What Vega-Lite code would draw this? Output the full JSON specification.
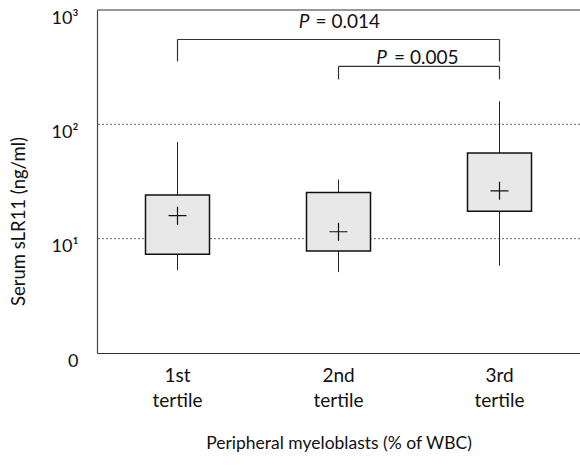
{
  "$schema": "https://vega.github.io/schema/vega-lite/v6.json",
  "width": 483,
  "height": 343,
  "autosize": {"type": "none"},
  "padding": {"left": 97, "top": 10, "right": 0, "bottom": 117},
  "background": "white",
  "config": {
    "view": {"stroke": null},
    "font": "Lato",
    "text": {"font": "Lato", "fontSize": 19}
  },
  "datasets": {
    "boxes": [
      {"g": "1st tertile", "lo": 5.3, "q1": 7.3, "med": 15.9, "q3": 24.1, "hi": 70},
      {"g": "2nd tertile", "lo": 5.1, "q1": 7.8, "med": 11.5, "q3": 25.3, "hi": 32.9},
      {"g": "3rd tertile", "lo": 5.8, "q1": 17.4, "med": 26.2, "q3": 56.1, "hi": 159}
    ],
    "brackets": [
      {"from": "1st tertile", "to": "3rd tertile", "top": 552, "leg": 355},
      {"from": "2nd tertile", "to": "3rd tertile", "top": 321, "leg": 247}
    ],
    "grid": [{"v": 10}, {"v": 100}],
    "border": [{"v": 1000}]
  },
  "encoding": {
    "x": {
      "field": "g",
      "type": "nominal",
      "scale": {"domain": ["1st tertile", "2nd tertile", "3rd tertile"], "paddingInner": 0, "paddingOuter": 0}
    }
  },
  "layer": [
    {
      "data": {"name": "grid"},
      "mark": {"type": "rule", "color": "#666", "strokeDash": [2, 2], "strokeWidth": 1},
      "encoding": {"x": null, "y": {"field": "v", "type": "quantitative"}}
    },
    {
      "data": {"name": "border"},
      "mark": {"type": "rule", "color": "#333", "strokeWidth": 1.2},
      "encoding": {"x": null, "y": {"field": "v", "type": "quantitative"}}
    },
    {
      "data": {"name": "boxes"},
      "mark": {"type": "rule", "color": "#222", "strokeWidth": 1},
      "encoding": {
        "x": {
          "field": "g",
          "type": "nominal",
          "axis": {
            "title": "Peripheral myeloblasts (% of WBC)",
            "titleFont": "Lato",
            "titleFontSize": 17.5,
            "titleFontWeight": "normal",
            "titleColor": "#111",
            "titlePadding": 24,
            "labelAngle": 0,
            "labelFont": "Lato",
            "labelFontSize": 19,
            "labelColor": "#111",
            "labelExpr": "split(datum.label, ' ')",
            "labelLineHeight": 25,
            "labelPadding": 13,
            "ticks": false,
            "domainColor": "#333",
            "domainWidth": 1.2
          }
        },
        "y": {
          "field": "lo",
          "type": "quantitative",
          "scale": {"type": "log", "domain": [1, 1000], "nice": false},
          "axis": {
            "title": "Serum sLR11 (ng/ml)",
            "titleFont": "Lato",
            "titleFontSize": 18.5,
            "titleFontWeight": "normal",
            "titleColor": "#111",
            "titleX": -79,
            "titleY": 211,
            "titleAlign": "center",
            "titleBaseline": "middle",
            "titleAngle": -90,
            "values": [1, 10, 100, 1000],
            "labelExpr": "datum.value == 1 ? '0' : datum.value == 10 ? '10¹' : datum.value == 100 ? '10²' : '10³'",
            "labelFont": "Lato",
            "labelFontSize": 18,
            "labelColor": "#111",
            "labelPadding": 19,
            "labelOffset": 8,
            "ticks": false,
            "grid": false,
            "domainColor": "#444",
            "domainWidth": 1.2
          }
        },
        "y2": {"field": "hi"}
      }
    },
    {
      "data": {"name": "boxes"},
      "mark": {"type": "bar", "width": 64, "fill": "#e8e8e8", "stroke": "#111", "strokeWidth": 1.5},
      "encoding": {
        "y": {"field": "q1", "type": "quantitative"},
        "y2": {"field": "q3"}
      }
    },
    {
      "data": {"name": "boxes"},
      "mark": {"type": "point", "shape": "M-1,0L1,0M0,-1L0,1", "size": 324, "filled": false, "stroke": "#111", "strokeWidth": 1.2, "opacity": 1},
      "encoding": {
        "y": {"field": "med", "type": "quantitative"}
      }
    },
    {
      "data": {"name": "brackets"},
      "mark": {"type": "rule", "color": "#333", "strokeWidth": 1.2},
      "encoding": {
        "x": {"field": "from", "type": "nominal"},
        "x2": {"field": "to"},
        "y": {"field": "top", "type": "quantitative"}
      }
    },
    {
      "data": {"name": "brackets"},
      "mark": {"type": "rule", "color": "#333", "strokeWidth": 1.2},
      "encoding": {
        "x": {"field": "from", "type": "nominal"},
        "y": {"field": "leg", "type": "quantitative"},
        "y2": {"field": "top"}
      }
    },
    {
      "data": {"name": "brackets"},
      "mark": {"type": "rule", "color": "#333", "strokeWidth": 1.2},
      "encoding": {
        "x": {"field": "to", "type": "nominal"},
        "y": {"field": "leg", "type": "quantitative"},
        "y2": {"field": "top"}
      }
    },
    {
      "data": {"values": [{"g": "2nd tertile", "y": 785, "p": "P", "rest": "= 0.014"}]},
      "layer": [
        {
          "mark": {"type": "text", "align": "right", "baseline": "middle", "dx": -29, "fontStyle": "italic", "color": "#111"},
          "encoding": {"y": {"field": "y", "type": "quantitative"}, "text": {"field": "p"}}
        },
        {
          "mark": {"type": "text", "align": "left", "baseline": "middle", "dx": -23, "color": "#111"},
          "encoding": {"y": {"field": "y", "type": "quantitative"}, "text": {"field": "rest"}}
        }
      ]
    },
    {
      "data": {"values": [{"g": "2nd tertile", "y": 380, "p": "P", "rest": "= 0.005"}]},
      "layer": [
        {
          "mark": {"type": "text", "align": "right", "baseline": "middle", "dx": -32, "fontStyle": "italic", "color": "#111"},
          "encoding": {"x": {"field": "g", "type": "nominal", "bandPosition": 1}, "y": {"field": "y", "type": "quantitative"}, "text": {"field": "p"}}
        },
        {
          "mark": {"type": "text", "align": "left", "baseline": "middle", "dx": -25, "color": "#111"},
          "encoding": {"x": {"field": "g", "type": "nominal", "bandPosition": 1}, "y": {"field": "y", "type": "quantitative"}, "text": {"field": "rest"}}
        }
      ]
    }
  ]
}
